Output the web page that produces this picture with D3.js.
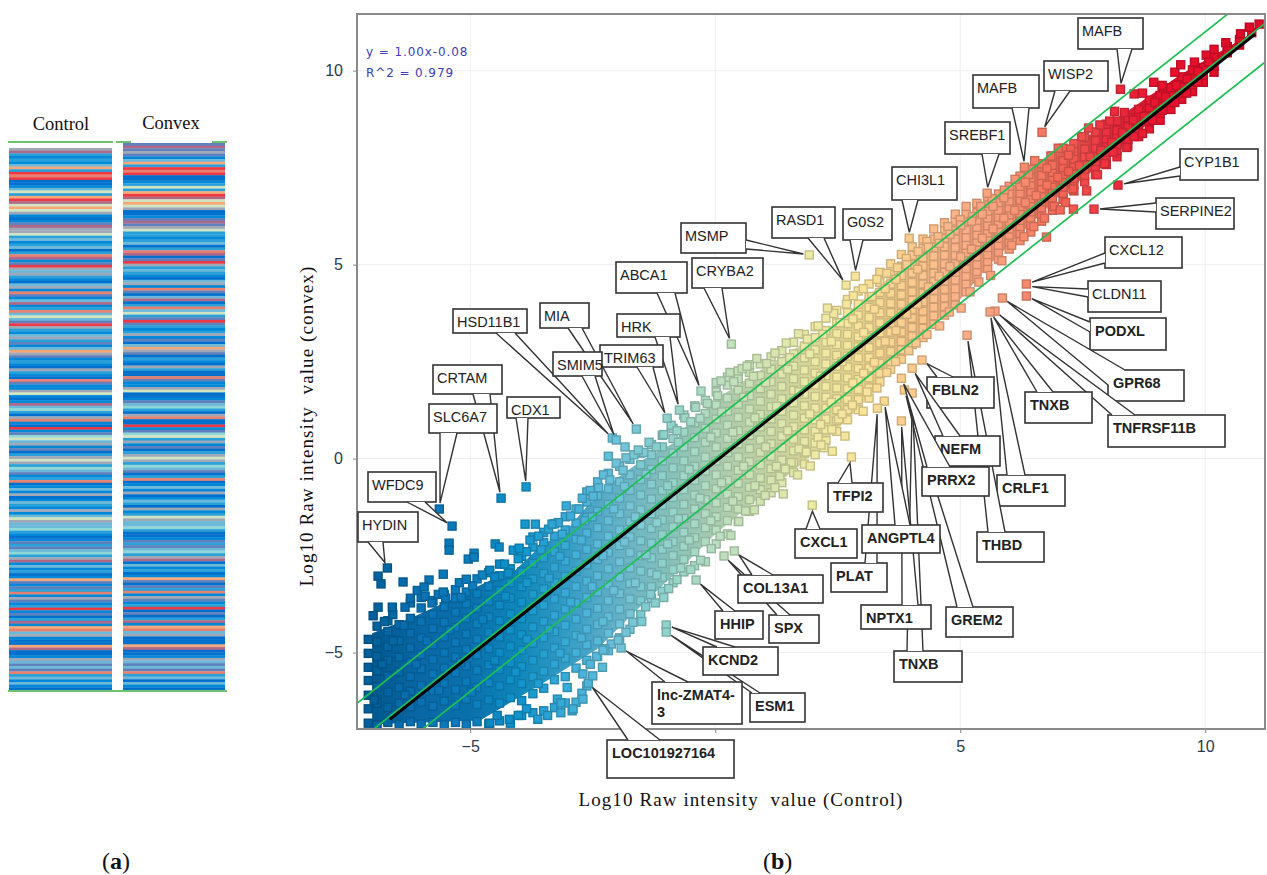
<!DOCTYPE html>
<html>
<head>
<meta charset="utf-8">
<script src="https://cdnjs.cloudflare.com/ajax/libs/d3/7.8.5/d3.min.js"></script>
<style>
body { margin: 0; background: #fff; }
svg { display: block; }
.serif { font-family: "Liberation Serif", serif; fill: #111; white-space: pre; }
.callout text { font-family: "Liberation Sans", sans-serif; font-size: 14.5px; fill: #222; }
.callout.bold text { font-weight: bold; font-size: 14.5px; }
.tick text { font-family: "Liberation Sans", sans-serif; font-size: 16px; fill: #2c3a4e; }
</style>
</head>
<body>
<svg id="chart" width="1267" height="875"></svg>
<script>
// left panel: stripe levels read top to bottom
const levelColors = ["#0070cc", "#0088d8", "#2aa0d8", "#6cb8d8", "#5f80bc", "#a0a8b8", "#b06888", "#e88070", "#ee3844", "#f4a878", "#d0e4c0", "#90d8d8"];
const controlLevels = [5,6,2,1,2,1,3,9,2,8,7,8,0,0,1,3,10,2,9,8,6,10,9,10,5,1,0,1,4,6,5,5,10,2,3,1,2,3,0,2,7,6,1,4,8,5,
  3,5,2,1,0,3,5,1,7,4,1,3,6,1,2,7,3,10,3,4,8,5,2,1,3,5,2,4,1,3,9,5,4,1,2,1,0,5,2,1,0,7,4,1,1,5,10,1,0,
  1,6,3,11,2,0,5,7,1,0,8,1,4,11,10,3,5,1,4,0,2,5,10,5,2,11,3,4,1,2,7,0,1,3,1,5,0,1,3,2,1,5,1,3,10,5,3,3,11,2,1,0,1,
  4,2,4,3,11,2,5,6,1,3,1,2,0,1,9,4,1,4,2,7,1,5,4,1,2,8,1,4,0,2,6,1,9,7,3,5,1,0,0,9,6,0,0,1,5,3,4,3,4,7,2,3,1,3,1,0];
const convexLevels = [4,6,4,5,4,1,3,9,2,8,7,8,0,0,1,2,10,2,9,8,6,10,9,10,5,0,0,1,4,6,4,5,10,2,2,1,2,3,0,2,7,6,0,4,8,5,
  2,3,2,1,0,3,5,1,7,4,0,3,6,0,2,7,3,10,2,4,8,4,2,1,2,5,1,4,0,3,9,5,4,0,2,1,0,5,2,0,0,7,4,1,1,5,10,0,0,
  1,4,3,11,2,0,5,7,0,0,8,1,4,11,10,2,5,1,4,0,2,5,10,5,2,11,3,4,0,2,7,0,1,3,1,5,0,1,3,2,0,5,1,2,10,5,3,3,11,2,0,0,1,
  4,2,4,3,11,2,5,6,0,3,1,2,0,1,9,4,0,4,2,7,1,5,4,1,2,8,0,4,0,2,6,1,9,7,3,5,0,0,0,9,6,0,0,1,5,3,4,3,4,7,2,3,0,3,1,0];

// scatter colour runs along the control axis
const colorStopX = [-7, -6, -5, -4, -3, -2, -1, 0, 1, 2, 3, 4, 5, 6, 7, 8, 9, 11];
const colorStops = ["#00609c", "#0a72b4", "#0b7cbc", "#1094cc", "#3aacd8", "#6cc2da", "#90d2cc", "#b8dec0", "#d2e4b2", "#eeeaa5", "#f9e49a", "#fbcb8e", "#fbb088", "#f99a78", "#f56a58", "#ee3040", "#e8142e", "#e00a28"];

const tickValues = [-5, 0, 5, 10];
const parallelOffsets = [1, 0, -1];
const fitSlope = 1.00;
const fitIntercept = -0.08;

// outline of the solid part of the cloud
const bandUpperX = [-7.0, -6.2, -5.5, -4.7, -4.1, -3.6, -3.0, -2.6, -2.0, -1.5, -0.85, -0.55, 0.1, 0.95, 2.35, 3.3, 4.5, 5.5, 6.6, 8.0, 9.5, 11.0];
const bandUpperY = [-4.5, -4.1, -3.7, -3.2, -2.9, -2.3, -1.8, -1.2, -0.5, -0.05, 0.4, 0.9, 1.6, 2.3, 3.4, 4.4, 5.6, 6.4, 7.6, 8.6, 9.9, 11.0];
const bandLowerX = [-7.0, -4.8, -3.4, -2.4, -1.6, -0.6, 0.0, 0.95, 1.75, 2.4, 3.0, 3.4, 4.2, 5.0, 5.6, 6.2, 7.0, 7.9, 8.7, 10.3, 11.0];
const bandLowerY = [-6.85, -6.75, -5.7, -4.9, -3.9, -2.7, -1.95, -0.95, -0.15, 0.65, 1.4, 2.05, 3.2, 4.1, 5.0, 5.75, 6.75, 7.6, 8.5, 10.2, 10.9];

// scatter points, one list of y values per x value
const columnX = [-7.08,-6.9,-6.68,-6.45,-6.22,-6,-5.76,-5.53,-5.3,-5.08,-4.86,-4.62,-4.4,-4.18,-3.95,-3.72,-3.5,-3.28,-3.06,-2.84,-2.62,-2.4,-2.18,-1.95,-1.74,-1.52,-1.3,-1.08,-0.86,-0.64,-0.42,-0.2,0.02,0.25,0.47,0.7,0.92,1.14,1.36,1.6,1.82,2.04,2.26,2.48,2.7,2.92,3.14,3.36,3.58,3.8,4.02,4.24,4.46,4.68,4.9,5.12,5.34,5.56,5.78,6,6.22,6.44,6.66,6.88,7.1,7.32,7.54,7.76,7.98,8.2,8.42,8.64,8.86,9.08,9.3,9.52,9.74,9.96,10.18,10.45,10.7,10.95,11.1];
const columnY = [
  [-6.82,-6.45,-6.1,-5.72,-5.38,-5.02,-4.66],
  [-6.86,-6.3,-5.88,-5.47,-5.1,-4.72,-4.32],
  [-6.8,-6.42,-6.02,-5.6,-5.2,-4.85,-4.46,-4.18],
  [-6.85,-6.3,-5.9,-5.5,-5.12,-4.7,-4.28],
  [-6.78,-6.4,-6,-5.62,-5.25,-4.88,-4.5,-4.12,-3.72],
  [-6.84,-6.28,-5.85,-5.42,-5.05,-4.62,-4.2,-3.85,-3.58],
  [-6.8,-6.38,-5.98,-5.55,-5.18,-4.8,-4.38,-4.02,-3.66],
  [-6.86,-6.25,-5.8,-5.4,-5,-4.6,-4.22,-3.82,-3.5],
  [-6.8,-6.36,-5.95,-5.52,-5.12,-4.74,-4.35,-3.96,-3.6,-3.38],
  [-6.85,-6.2,-5.75,-5.35,-4.92,-4.52,-4.12,-3.74,-3.44],
  [-6.78,-6.34,-5.9,-5.46,-5.06,-4.66,-4.26,-3.86,-3.48,-3.1],
  [-6.84,-6.22,-5.78,-5.32,-4.9,-4.48,-4.08,-3.68,-3.3,-2.94],
  [-6.76,-6.3,-5.86,-5.44,-5,-4.6,-4.18,-3.78,-3.4,-3.02,-2.72],
  [-6.82,-6.16,-5.7,-5.26,-4.84,-4.42,-4,-3.6,-3.2,-2.84],
  [-6.62,-6.24,-5.8,-5.36,-4.94,-4.54,-4.12,-3.7,-3.3,-2.92,-2.52],
  [-6.55,-6.06,-5.62,-5.2,-4.76,-4.34,-3.92,-3.5,-3.1,-2.7,-2.28,-2.02],
  [-6.5,-5.92,-5.48,-5.04,-4.62,-4.2,-3.78,-3.36,-2.96,-2.56,-2.16,-1.9],
  [-6.42,-5.7,-5.3,-4.88,-4.46,-4.04,-3.62,-3.2,-2.8,-2.4,-2,-1.68],
  [-6.3,-5.62,-5.14,-4.72,-4.3,-3.88,-3.46,-3.04,-2.64,-2.24,-1.84,-1.5],
  [-6.28,-5.4,-5,-4.56,-4.14,-3.72,-3.3,-2.9,-2.48,-2.08,-1.66,-1.3],
  [-5.86,-5.2,-4.8,-4.4,-3.98,-3.58,-3.16,-2.74,-2.34,-1.92,-1.52,-1.12,-0.86],
  [-5.1,-4.7,-4.28,-3.86,-3.44,-3.02,-2.6,-2.2,-1.78,-1.36,-0.96,-0.6],
  [-4.95,-4.5,-4.08,-3.66,-3.26,-2.84,-2.42,-2,-1.6,-1.18,-0.78,-0.38],
  [-4.62,-4.26,-3.88,-3.48,-3.06,-2.66,-2.24,-1.84,-1.42,-1.02,-0.6,-0.2],
  [-4.4,-4,-3.62,-3.22,-2.82,-2.42,-2.02,-1.62,-1.22,-0.82,-0.42,-0.02],
  [-4.02,-3.66,-3.3,-2.9,-2.5,-2.12,-1.72,-1.32,-0.94,-0.54,-0.16,0.14],
  [-3.6,-3.3,-2.94,-2.56,-2.18,-1.8,-1.42,-1.04,-0.66,-0.28,0.1,0.36],
  [-3.42,-3.06,-2.7,-2.34,-1.96,-1.58,-1.2,-0.82,-0.44,-0.06,0.3,0.6],
  [-3.2,-2.86,-2.5,-2.14,-1.76,-1.38,-1,-0.62,-0.24,0.14,0.52,0.78],
  [-2.92,-2.6,-2.26,-1.9,-1.54,-1.18,-0.8,-0.44,-0.06,0.3,0.68,1.12],
  [-2.76,-2.4,-2.04,-1.68,-1.3,-0.94,-0.56,-0.2,0.18,0.54,0.92,1.36],
  [-2.66,-2.14,-1.78,-1.42,-1.06,-0.7,-0.32,0.04,0.42,0.78,1.16,1.5],
  [-2.2,-1.84,-1.5,-1.14,-0.78,-0.42,-0.06,0.3,0.66,1.02,1.38,1.72,1.96],
  [-1.94,-1.6,-1.26,-0.92,-0.56,-0.2,0.16,0.52,0.86,1.22,1.56,1.9,2.1],
  [-1.62,-1.3,-0.98,-0.64,-0.3,0.04,0.38,0.72,1.06,1.4,1.76,2.06,2.26],
  [-1.36,-1.06,-0.74,-0.42,-0.08,0.26,0.6,0.94,1.28,1.62,1.94,2.22,2.42],
  [-1.1,-0.8,-0.5,-0.16,0.16,0.48,0.82,1.14,1.48,1.8,2.14,2.44],
  [-0.88,-0.56,-0.26,0.06,0.38,0.7,1.02,1.34,1.66,1.98,2.3,2.62],
  [-0.62,-0.34,-0.04,0.28,0.58,0.9,1.22,1.54,1.86,2.18,2.5,2.78],
  [-0.36,-0.1,0.2,0.5,0.82,1.12,1.44,1.76,2.06,2.38,2.7,3],
  [-0.14,0.14,0.44,0.74,1.04,1.36,1.66,1.98,2.28,2.6,2.9,3.2],
  [0.1,0.4,0.7,1,1.3,1.6,1.9,2.2,2.5,2.8,3.12,3.4],
  [0.46,0.74,1.02,1.3,1.58,1.86,2.14,2.44,2.72,3,3.3,3.62],
  [0.7,0.98,1.26,1.54,1.82,2.1,2.38,2.66,2.94,3.22,3.5,3.82],
  [1,1.26,1.52,1.8,2.08,2.36,2.64,2.92,3.2,3.48,3.76,4.1],
  [1.26,1.52,1.78,2.04,2.32,2.6,2.88,3.14,3.42,3.7,3.98,4.32],
  [1.56,1.82,2.08,2.34,2.6,2.86,3.12,3.38,3.64,3.9,4.16,4.5],
  [1.98,2.2,2.46,2.72,2.98,3.24,3.5,3.76,4.02,4.28,4.54,4.8],
  [2.3,2.5,2.76,3,3.26,3.5,3.76,4,4.26,4.5,4.76,5.02],
  [2.56,2.8,3.02,3.26,3.5,3.74,3.98,4.22,4.46,4.72,4.96,5.26],
  [2.94,3.16,3.38,3.62,3.84,4.08,4.3,4.54,4.78,5,5.24,5.46],
  [3.12,3.36,3.58,3.8,4.04,4.26,4.5,4.72,4.96,5.18,5.42,5.66],
  [3.46,3.68,3.9,4.12,4.34,4.56,4.78,5,5.22,5.44,5.66,5.92],
  [3.7,3.92,4.14,4.36,4.58,4.8,5.02,5.24,5.46,5.68,5.9,6.08],
  [3.96,4.18,4.38,4.6,4.8,5.02,5.24,5.44,5.66,5.88,6.12,6.3],
  [4.3,4.5,4.7,4.9,5.1,5.3,5.5,5.7,5.9,6.1,6.3,6.5],
  [4.64,4.82,5,5.2,5.38,5.58,5.76,5.96,6.14,6.34,6.58],
  [4.9,5.08,5.26,5.44,5.62,5.82,6,6.2,6.38,6.58,6.74],
  [5.14,5.32,5.5,5.68,5.86,6.04,6.22,6.4,6.6,6.82],
  [5.4,5.58,5.76,5.92,6.1,6.28,6.46,6.64,6.82,7.02],
  [5.62,5.8,5.98,6.14,6.32,6.5,6.66,6.84,7.02,7.28],
  [5.84,6.02,6.2,6.36,6.54,6.7,6.88,7.06,7.24,7.46],
  [6.12,6.3,6.46,6.62,6.8,6.96,7.14,7.3,7.6],
  [6.4,6.56,6.72,6.88,7.04,7.2,7.38,7.56,7.8],
  [6.68,6.84,7,7.16,7.32,7.5,7.68,8],
  [6.9,7.06,7.22,7.38,7.54,7.72,7.92,8.12],
  [7.14,7.3,7.46,7.62,7.78,7.98,8.28],
  [7.32,7.5,7.66,7.82,8,8.2,8.42],
  [7.58,7.74,7.9,8.06,8.24,8.42,8.62],
  [7.78,7.94,8.1,8.28,8.46,8.7],
  [8.06,8.22,8.38,8.56,8.78],
  [8.3,8.46,8.62,8.8,9],
  [8.5,8.68,8.84,9.04,9.24],
  [8.72,8.9,9.08,9.36],
  [9,9.18,9.36,9.56],
  [9.26,9.42,9.58,9.84],
  [9.46,9.64,9.86,10.02],
  [9.7,9.88,10.08],
  [9.96,10.12,10.36],
  [10.46,10.62],
  [10.66,10.8],
  [10.98],
  [11.2]
];
// ragged upper edge, lower edge and in-between points of the cloud
const fringePoints = [
  [-6.98,-4.05],[-6.75,-4.2],[-6.58,-4.02],[-6.35,-4.3],[-6.22,-3.6],[-6.08,-3.4],[-5.92,-3.55],[-5.78,-3.72],[-5.65,-3.5],[-5.5,-3.6],[-5.22,-3.2],[-5.18,-3.58],[-4.95,-3.28],[-4.75,-3],[-4.6,-2.88],[-4.5,-3.05],[-4.3,-2.72],[-4.22,-2.95],[-4.02,-2.58],[-3.85,-2.4],[-3.78,-2.1],[-3.6,-2],[-3.55,-2.35],[-3.4,-1.82],[-3.2,-1.65],[-3.12,-1.95],[-2.95,-1.48],[-2.78,-1.3],[-2.66,-1.6],[-2.55,-0.82],[-2.38,-0.75],[-2.28,-0.42],[-2.15,-0.55],[-2.02,-0.12],[-1.88,-0.3],[-1.82,0.02],[-1.66,0.1],[-1.46,0.16],[-1.35,0.42],[-1.2,0.3],[-1.05,0.62],[-0.9,0.86],[-0.78,0.72],[-0.62,1.05],[-0.5,0.95],[-0.4,1.32],[-0.16,1.42],[0.05,1.62],[0.12,2],[0.3,2.22],[0.38,1.98],[0.55,2.32],[0.78,2.12],[0.85,2.58],[1.05,2.45],[1.22,2.72],[1.45,2.98],[1.52,2.6],[1.7,3.22],[1.88,3.08],[2.1,3.42],[2.2,3.2],[2.42,3.74],[2.55,3.5],[2.68,3.98],[2.82,4.2],[3.02,4.38],[3.2,4.18],[3.3,4.62],[3.5,4.78],[3.72,4.92],[3.9,5.16],[4.14,5.34],[4.32,5.6],[4.55,5.72],[4.75,5.98],[5,6.16],[5.25,6.24],[5.42,6.5],[5.65,6.7],[5.9,6.92],[6.12,7.2],[6.4,7.32],[6.52,7.68],[6.85,7.8],[7,8],[7.25,7.98],[7.48,8.3],[7.62,8.52],[7.85,8.6],[8.05,8.7],[8.15,8.95],[8.35,8.92],[8.55,9.4],[8.72,9.42],[8.95,9.7],[9.12,9.62],[9.38,9.96],[9.5,10.15],[9.78,10.22],[10.02,10.4],[10.18,10.55],[10.42,10.72],[10.72,10.95],[10.9,11.12],
  [-4.6,-6.82],[-4.45,-6.62],[-4.2,-6.72],[-4.02,-6.62],[-3.85,-6.45],[-3.62,-6.72],[-3.42,-6.62],[-3.22,-6.2],[-3.02,-5.9],[-3.15,-6.55],[-2.92,-6.5],[-2.72,-6.05],[-2.7,-5.55],[-2.55,-5.3],[-2.42,-5.1],[-2.3,-5.38],[-2.12,-4.78],[-2.25,-4.9],[-1.96,-4.65],[-1.82,-4.48],[-1.68,-4.22],[-1.5,-4.2],[-1.42,-3.82],[-1.32,-3.5],[-1.22,-3.72],[-1.05,-3.58],[-0.95,-3.35],[-0.78,-3.12],[-0.7,-2.82],[-0.5,-2.86],[-0.3,-2.62],[-0.08,-2.32],[0.1,-2],[0.32,-1.98],[0.48,-1.62],[0.62,-1.35],[0.8,-1.32],[1.02,-0.95],[1.22,-0.75],[1.32,-0.45],[1.55,-0.1],[1.68,-0.42],[1.82,0.2],[2.1,0.55],[2.22,0.28],[2.38,0.75],[2.52,1.02],[2.65,0.58],[2.8,1.38],[3.02,1.22],[3.1,1.72],[3.3,1.82],[3.5,2.22],[3.68,2.5],[3.95,2.78],[4.1,2.98],[4.32,3.2],[4.58,3.42],[4.78,3.78],[5.02,3.88],[5.2,4.3],[5.38,4.55],[5.62,4.72],[5.85,5.1],[6.05,5.5],[6.3,5.72],[6.5,5.98],[6.72,6.2],[6.92,6.5],[7.15,6.6],[7.3,6.95],[7.58,6.9],[7.8,7.32],[7.95,7.6],[8.12,7.9],[8.4,8.02],[8.55,8.3],[8.72,8.38],[8.92,8.72],[9.12,8.98],[9.38,9.18],[9.62,9.42],[9.85,9.7],
  [-6.96,-6.22],[-6.79,-5.3],[-6.57,-4.7],[-6.33,-6.1],[-6.1,-5.3],[-5.88,-4.7],[-5.64,-5.98],[-5.42,-4.42],[-5.19,-5.25],[-4.97,-6.02],[-4.74,-4.15],[-4.5,-5.2],[-4.28,-3.55],[-4.07,-5.5],[-3.84,-3.2],[-3.84,-4.66],[-3.61,-5.8],[-3.39,-3.08],[-3.39,-4.4],[-3.17,-5.02],[-3.17,-2.52],[-2.95,-3.7],[-2.73,-4.62],[-2.73,-2.1],[-2.51,-3.3],[-2.51,-1.5],[-2.29,-4.2],[-2.29,-2.5],[-2.07,-1.3],[-2.07,-3.4],[-1.85,-2.15],[-1.85,-0.72],[-1.63,-3.2],[-1.63,-1.5],[-1.41,-2.48],[-1.41,-0.4],[-1.19,-1.65],[-1.19,-3],[-0.97,-0.7],[-0.97,-2.2],[-0.75,-1.55],[-0.75,0.42],[-0.53,-2.1],[-0.53,-0.28],[-0.31,-1.02],[-0.31,1.04],[-0.09,-1.6],[-0.09,0.55],[0.13,-0.62],[0.13,1.2],[0.36,-1.1],[0.36,0.68],[0.58,-0.2],[0.58,1.58],[0.81,-0.7],[0.81,1.05],[1.03,0.3],[1.03,1.96],[1.25,-0.2],[1.25,1.35],[1.48,0.72],[1.48,2.3],[1.71,0.25],[1.71,1.72],[1.93,1.15],[1.93,2.7],[2.15,0.88],[2.15,2.12],[2.37,1.45],[2.37,3.02],[2.59,1.15],[2.59,2.5],[2.81,1.95],[2.81,3.6],[3.03,2.2],[3.03,3.25],[3.25,2.48],[3.25,3.85],[3.47,3.02],[3.47,4.38],[3.69,3.3],[3.69,4.62],[3.91,3.72],[3.91,5],[4.13,3.98],[4.13,4.88],[4.35,4.42],[4.35,5.45],[4.57,4.7],[4.57,5.55],[4.79,4.95],[4.79,5.78],[5.01,5.2],[5.01,6.02],[5.23,5.4],[5.23,6.12],[5.45,5.68],[5.45,6.3],[5.67,5.92],[5.67,6.5],[5.89,6.2],[5.89,6.72],[6.11,6.4],[6.33,6.6],[6.33,7.12],[6.55,6.78],[6.77,7.05],[6.77,7.48],[6.99,7.25],[7.21,7.4],[7.21,7.82],[7.43,7.55],[7.65,7.78],[7.87,7.95],[8.09,8.15],[8.31,8.4],[8.53,8.72],[8.75,8.82],[8.97,9.18],[9.19,9.32],[9.41,9.62],[9.63,9.78],[9.85,9.98],[10.07,10.22]
];
// points that sit away from the cloud
const outlierX = [-6.69,-6.88,-6.82,-6.37,-5.84,-5.94,-5.55,-5.55,-5.37,-5.43,-5.43,-5.04,-4.92,-4.92,-5.08,-4.49,-4.41,-4.12,-4,-3.88,-3.67,-3.33,-3.04,-4.37,-5.63,-6.88,-6.59,-6.33,-3.86,-2.71,-2.49,-2.18,-2.1,-2.02,-1.84,-1.57,-1.61,-0.98,-0.73,-0.29,0.33,0.65,1.92,2.67,2.86,3.96,2.29,8.27,6.67,6.31,5.55,8.22,7.73,7.31,7.04,6.76,6.35,6.35,5.86,5.71,5.61,5.14,4.22,4.02,3.8,3.86,4.02,3.45,3.31,3.8,2.78,1.98,1.94,1.43,1.39,2.39,2.16,1.86,0.39,0.18,-0.39,-1,-1,-1.92,-2.59,-1.98,-2.29,-3.15,-2.9,-2.7,-2.5];
const outlierY = [-2.82,-3.03,-3.23,-3.18,-3.13,-3.31,-2.98,-3.44,-1.74,-2.18,-2.36,-2.59,-2.44,-2.54,-3.11,-2.2,-2.28,-2.36,-2.31,-1.69,-1.69,-1.69,-1.22,-1.02,-1.3,-3.83,-3.83,-3.83,-0.73,-1.02,-0.97,0.06,0.53,0.48,0.3,0.22,0.76,1.04,1.25,1.74,2.95,2.38,5.25,4.47,4.7,5.68,3.88,9.52,8.41,7.51,6.84,7.05,6.43,6.43,6.41,5.71,4.5,4.19,4.14,3.8,3.78,3.18,2.54,2.33,2.07,1.77,1.69,1.48,1.3,0.97,0.04,-1.2,-0.19,-0.27,-0.91,0.19,0.35,0.17,-2.38,-2.51,-3.13,-4.29,-4.47,-4.88,-5.79,-4.68,-4.94,-6.3,-6.45,-6.2,-5.6];

// gene labels and the point each one names
const calloutNames = ["ABCA1","HRK","TRIM63","MIA","HSD11B1","SMIM5","CRYBA2","CRTAM","SLC6A7","CDX1","WFDC9","HYDIN","MSMP","RASD1","G0S2","CHI3L1","SREBF1","MAFB","WISP2","MAFB","CYP1B1","SERPINE2","CXCL12","CLDN11","PODXL","GPR68","TNFRSF11B","TNXB","CRLF1","THBD","FBLN2","NEFM","GREM2","TNXB","NPTX1","PRRX2","PLAT","ANGPTL4","TFPI2","CXCL1","SPX","COL13A1","HHIP","ESM1","KCND2","lnc-ZMAT4-|3","LOC101927164"];
const calloutTargetX = [-0.29,-0.73,-0.98,-1.61,-2.1,-2.02,0.33,-4.37,-5.63,-3.86,-5.37,-6.69,1.92,2.67,2.86,3.96,5.55,6.31,6.67,8.27,8.22,7.73,6.35,6.35,6.35,5.86,5.71,5.61,5.61,5.14,4.22,4.02,3.86,4.02,3.8,3.8,3.31,3.45,2.78,1.98,0.18,0.39,-0.39,-1,-1,-1.92,-2.59];
const calloutTargetY = [1.74,1.25,1.04,0.76,0.53,0.48,2.95,-1.02,-1.3,-0.73,-1.74,-2.82,5.25,4.47,4.7,5.68,6.84,7.51,8.41,9.52,7.05,6.43,4.5,4.45,4.19,4.14,3.8,3.78,3.78,3.18,2.54,2.33,1.77,1.69,0.97,2.07,1.3,1.48,0.04,-1.2,-2.51,-2.38,-3.13,-4.47,-4.29,-4.88,-5.79];
const calloutBold = ["PODXL","GPR68","TNFRSF11B","TNXB","CRLF1","THBD","FBLN2","NEFM","GREM2","NPTX1","PRRX2","PLAT","ANGPTL4","TFPI2","CXCL1","SPX","COL13A1","HHIP","ESM1","KCND2","lnc-ZMAT4-|3","LOC101927164"];

// label placement on the page: left, top, right, bottom, then the two tail roots
const calloutLayout = [
  [616,262,687,293, 657,293,675,293], [617,314,680,337, 655,337,670,337], [600,345,663,367, 637,367,653,367],
  [540,303,589,328, 568,328,582,328], [453,309,527,333, 496,333,515,333], [553,352,602,376, 582,376,595,376],
  [692,258,763,288, 704,288,722,288], [433,365,502,394, 473,394,490,394], [429,404,497,433, 440,433,457,433],
  [507,397,560,418, 516,418,528,418], [368,472,436,502, 407,502,425,502], [358,512,418,542, 368,542,383,542],
  [681,223,746,253, 746,240,746,249], [772,207,835,238, 808,238,824,238], [843,209,892,240, 850,240,863,240],
  [892,167,957,200, 902,200,918,200], [945,122,1010,154, 982,154,999,154], [973,75,1039,108, 1012,108,1029,108],
  [1044,61,1108,91, 1055,91,1070,91], [1078,18,1143,49, 1117,49,1132,49], [1180,149,1258,180, 1180,167,1180,176],
  [1156,198,1234,229, 1156,203,1156,212], [1105,237,1182,268, 1105,253,1105,263], [1088,281,1161,312, 1088,289,1088,297],
  [1090,318,1166,350, 1090,322,1090,332], [1108,370,1184,401, 1125,370,1108,385], [1108,415,1225,447, 1112,415,1135,415],
  [1025,392,1092,423, 1037,392,1053,392], [997,475,1065,506, 1007,475,1025,475], [977,532,1044,562, 988,532,1005,532],
  [927,377,994,408, 937,377,953,377], [935,436,1000,466, 943,436,960,436], [946,607,1013,637, 957,607,973,607],
  [894,651,962,682, 907,651,923,651], [861,605,931,629, 902,605,918,605], [922,467,989,496, 927,467,950,467],
  [831,563,887,592, 865,563,877,563], [862,525,940,553, 895,525,910,525], [828,483,883,512, 838,483,852,483],
  [795,529,857,558, 806,529,820,529], [769,615,819,643, 777,615,790,615], [738,575,823,603, 752,575,773,575],
  [715,611,763,639, 723,611,735,611], [750,693,805,722, 752,693,760,693], [703,647,778,675, 717,647,735,647],
  [652,682,742,724, 665,682,688,682], [607,740,734,778, 628,740,660,740]
];

const svg = d3.select("#chart");

function drawStrips(levels, left, right, top) {
    const rowScale = d3.scaleBand().domain(d3.range(levels.length)).range([top, 690]);
    const levelColor = d3.scaleOrdinal(d3.range(levelColors.length), levelColors);
    svg.append("g").style("filter", "blur(0.7px)")
        .selectAll("rect")
        .data(levels)
        .join("rect")
        .attr("x", left)
        .attr("width", right - left)
        .attr("y", (d, i) => rowScale(i))
        .attr("height", rowScale.bandwidth() + 0.3)
        .attr("fill", d => levelColor(d));
}

drawStrips(controlLevels, 9, 112, 148);
drawStrips(convexLevels, 123, 225, 143);

[[8, 113, 142], [116, 131, 142], [212, 227, 142], [8, 227, 691]].forEach(d => {
    svg.append("line").attr("x1", d[0]).attr("x2", d[1]).attr("y1", d[2]).attr("y2", d[2])
        .attr("stroke", "#6fc36f").attr("stroke-width", 2);
});

svg.append("text").attr("class", "serif").attr("x", 61).attr("y", 130).attr("text-anchor", "middle")
    .style("font-size", "18.5px").text("Control");
svg.append("text").attr("class", "serif").attr("x", 171).attr("y", 129).attr("text-anchor", "middle")
    .style("font-size", "18.5px").text("Convex");

// right panel
const x = d3.scaleLinear().domain([-7.31, 11.22]).range([357, 1265]);
const y = d3.scaleLinear().domain([-6.97, 11.46]).range([729, 14]);
const pointColor = d3.scaleLinear().domain(colorStopX).range(colorStops);

const defs = svg.append("defs");
defs.append("clipPath").attr("id", "plot-clip").append("rect")
    .attr("x", 357).attr("y", 14).attr("width", 908).attr("height", 715);
const bandGradient = defs.append("linearGradient").attr("id", "band-gradient")
    .attr("gradientUnits", "userSpaceOnUse")
    .attr("x1", x(-7)).attr("x2", x(11)).attr("y1", 0).attr("y2", 0);
colorStopX.forEach((d, i) => {
    bandGradient.append("stop")
        .attr("offset", (d + 7) / 18)
        .attr("stop-color", d3.color(colorStops[i]).darker(0.25));
});

svg.append("g").selectAll("line").data(tickValues).join("line")
    .attr("x1", d => x(d)).attr("x2", d => x(d)).attr("y1", 14).attr("y2", 729)
    .attr("stroke", "#eeeeee");
svg.append("g").selectAll("line").data(tickValues).join("line")
    .attr("x1", 357).attr("x2", 1265).attr("y1", d => y(d)).attr("y2", d => y(d))
    .attr("stroke", "#eeeeee");

const plot = svg.append("g").attr("clip-path", "url(#plot-clip)");
const cloud = plot.append("g").style("filter", "blur(0.5px)");

const bandOutline = bandUpperX.map((d, i) => [d, bandUpperY[i]])
    .concat(bandLowerX.map((d, i) => [d, bandLowerY[i]]).reverse());
cloud.append("path")
    .attr("d", d3.line().x(d => x(d[0])).y(d => y(d[1]))(bandOutline) + "Z")
    .attr("fill", "url(#band-gradient)");

const points = [];
columnX.forEach((cx, i) => columnY[i].forEach(cy => points.push([cx, cy])));
fringePoints.forEach(d => points.push(d));
outlierX.forEach((ox, i) => points.push([ox, outlierY[i]]));

const pointSize = 8;
cloud.selectAll("rect")
    .data(points)
    .join("rect")
    .attr("x", d => x(d[0]) - pointSize / 2)
    .attr("y", d => y(d[1]) - pointSize / 2)
    .attr("width", pointSize)
    .attr("height", pointSize)
    .attr("fill", d => pointColor(d[0]))
    .attr("stroke", d => d3.color(pointColor(d[0])).darker(0.55))
    .attr("stroke-width", 1.4);

// parallel green lines with the fit on top
plot.selectAll(".parallel")
    .data(parallelOffsets)
    .join("line")
    .attr("class", "parallel")
    .attr("x1", x(-8)).attr("x2", x(12))
    .attr("y1", d => y(-8 + d)).attr("y2", d => y(12 + d))
    .attr("stroke", "#1fbf55")
    .attr("stroke-width", 1.7);
plot.append("line")
    .attr("x1", x(-6.64)).attr("x2", x(11.02))
    .attr("y1", y(fitSlope * -6.64 + fitIntercept)).attr("y2", y(fitSlope * 11.02 + fitIntercept))
    .attr("stroke", "#050505")
    .attr("stroke-width", 3);

svg.append("rect").attr("x", 357).attr("y", 14).attr("width", 908).attr("height", 715)
    .attr("fill", "none").attr("stroke", "#8a8a8a").attr("stroke-width", 2);

const minusFormat = d => d < 0 ? "\u2212" + Math.abs(d) : d;
const xAxis = svg.append("g").attr("transform", "translate(0,729)")
    .call(d3.axisBottom(x).tickValues(tickValues).tickSize(4).tickPadding(8).tickFormat(minusFormat));
const yAxis = svg.append("g").attr("transform", "translate(357,0)")
    .call(d3.axisLeft(y).tickValues(tickValues).tickSize(4).tickPadding(10).tickFormat(minusFormat));
xAxis.select(".domain").remove();
yAxis.select(".domain").remove();
svg.selectAll(".tick line").attr("stroke", "#888");
// the zero on the x axis sits behind the LOC101927164 box in the picture
xAxis.selectAll(".tick text").filter(d => d === 0).remove();

svg.append("text").attr("class", "serif").attr("x", 741).attr("y", 806).attr("text-anchor", "middle")
    .style("font-size", "19px").style("letter-spacing", "1.1px").text("Log10 Raw intensity  value (Control)");
svg.append("text").attr("class", "serif").attr("transform", "translate(313,426) rotate(-90)").attr("text-anchor", "middle")
    .style("font-size", "19px").style("letter-spacing", "1.1px").text("Log10 Raw intensity  value (convex)");

svg.selectAll(".equation")
    .data(["y = 1.00x-0.08", "R^2 = 0.979"])
    .join("text")
    .attr("class", "equation")
    .attr("x", 366)
    .attr("y", (d, i) => 56 + i * 21)
    .style("font-family", "DejaVu Sans, sans-serif")
    .style("font-size", "12px")
    .style("letter-spacing", "0.9px")
    .attr("fill", "#4040b8")
    .text(d => d);

// callouts are drawn back to front so later boxes hide earlier tails
calloutNames.forEach((name, i) => {
    const [left, top, right, bottom, x1, y1, x2, y2] = calloutLayout[i];
    const px = x(calloutTargetX[i]);
    const py = y(calloutTargetY[i]);
    const mx = (x1 + x2) / 2;
    const my = (y1 + y2) / 2;
    const len = Math.hypot(px - mx, py - my);
    const tipX = px - (px - mx) / len * 6;
    const tipY = py - (py - my) / len * 6;
    const isBold = calloutBold.includes(name);

    const g = svg.append("g").attr("class", isBold ? "callout bold" : "callout");
    g.append("rect")
        .attr("x", left).attr("y", top).attr("width", right - left).attr("height", bottom - top)
        .attr("fill", "#fff").attr("stroke", "#333").attr("stroke-width", 1.6);
    g.append("path")
        .attr("d", `M${x1},${y1}L${tipX},${tipY}L${x2},${y2}`)
        .attr("fill", "#fff").attr("stroke", "#333").attr("stroke-width", 1.4);
    name.split("|").forEach((part, j) => {
        g.append("text").attr("x", left + (isBold ? 5 : 4)).attr("y", top + 18 + j * 17).text(part);
    });
});

svg.append("text").attr("class", "serif").attr("x", 102).attr("y", 869).style("font-size", "24px")
    .html('(<tspan font-weight="bold">a</tspan>)');
svg.append("text").attr("class", "serif").attr("x", 763).attr("y", 869).style("font-size", "24px")
    .html('(<tspan font-weight="bold">b</tspan>)');
</script>
</body>
</html>
